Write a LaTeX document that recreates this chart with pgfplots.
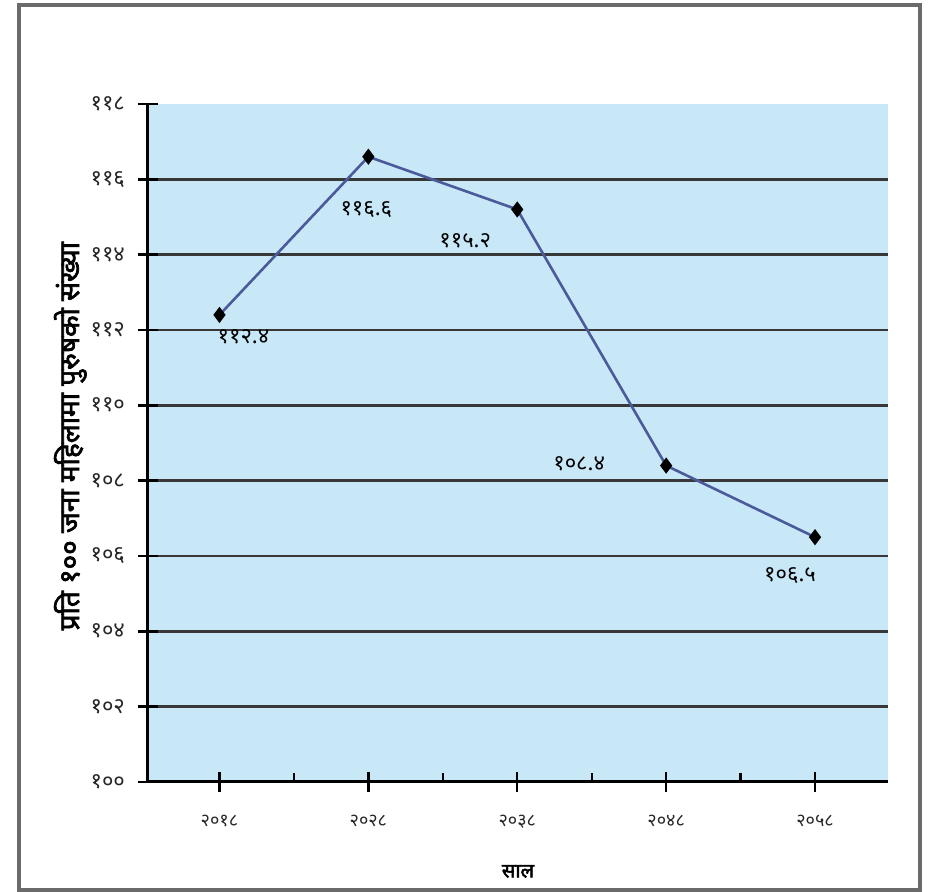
\documentclass[border=0pt]{standalone}
\usepackage{fontspec}
\setmainfont{Noto Sans}[Script=Devanagari]
\newfontfamily\devbold{Noto Sans}[Script=Devanagari, FakeBold=2.5]
\usepackage{pgfplots}
\pgfplotsset{compat=1.18}
\definecolor{bgblue}{HTML}{C8E8F8}
\definecolor{linecol}{HTML}{4B5A9B}
\definecolor{gridcol}{HTML}{383838}
\definecolor{framecol}{HTML}{6A6A6A}
\begin{document}
\begin{tikzpicture}
\path[use as bounding box] (-74pt,-55pt) rectangle (392pt,391pt);
\draw[framecol, line width=1.6pt] (-64.5pt,-54pt) rectangle (386pt,388.5pt);
\begin{axis}[
  at={(0,0)}, anchor=south west,
  scale only axis,
  width=370pt, height=339pt,
  xmin=-0.48, xmax=4.49,
  ymin=100, ymax=118,
  axis lines*=left,
  axis line style={line width=1.5pt, black, -},
  axis background/.style={fill=bgblue},
  xtick={0,1,2,3,4},
  xticklabels={२०१८,२०२८,२०३८,२०४८,२०५८},
  minor xtick={0.5,1.5,2.5,3.5},
  xtick style={line width=1.2pt, black},
  minor x tick style={yshift=2.25pt},
  major tick length=10pt,
  minor tick length=4.5pt,
  xtick align=center,
  ytick={102,104,...,116},
  yticklabels={१०२,१०४,१०६,१०८,११०,११२,११४,११६},
  extra y ticks={100,118},
  extra y tick labels={१००,११८},
  extra y tick style={grid=none},
  ytick style={line width=1.2pt, black},
  ytick align=center,
  ymajorgrids,
  grid style={line width=1.4pt, gridcol},
  tick label style={text=black!85},
  xticklabel style={font=\fontsize{9}{10}\selectfont, yshift=-8pt},
  yticklabel style={font=\fontsize{11}{12}\selectfont, xshift=-3pt},
  xlabel={\devbold साल},
  ylabel={\devbold प्रति १०० जना महिलामा पुरुषको संख्या},
  xlabel style={font=\fontsize{10}{11}\selectfont, yshift=-11.5pt},
  ylabel style={font=\fontsize{14}{15}\selectfont, at={(axis description cs:-0.105,0.51)}, anchor=center},
  clip=false,
]
\addplot[linecol, line width=1.3pt, mark=diamond*, mark size=3pt,
  mark options={fill=black, draw=black, solid}]
  coordinates {(0,112.4) (1,116.6) (2,115.2) (3,108.4) (4,106.5)};
\node[font=\fontsize{11}{12}\selectfont] at (axis cs:0,112.4) [xshift=12pt, yshift=-11pt] {११२.४};
\node[font=\fontsize{11}{12}\selectfont] at (axis cs:1,116.6) [xshift=-1pt, yshift=-26.5pt] {११६.६};
\node[font=\fontsize{11}{12}\selectfont] at (axis cs:2,115.2) [xshift=-26pt, yshift=-15.5pt] {११५.२};
\node[font=\fontsize{11}{12}\selectfont] at (axis cs:3,108.4) [xshift=-43.5pt, yshift=1pt] {१०८.४};
\node[font=\fontsize{11}{12}\selectfont] at (axis cs:4,106.5) [xshift=-12.5pt, yshift=-19pt] {१०६.५};
\end{axis}
\end{tikzpicture}
\end{document}
